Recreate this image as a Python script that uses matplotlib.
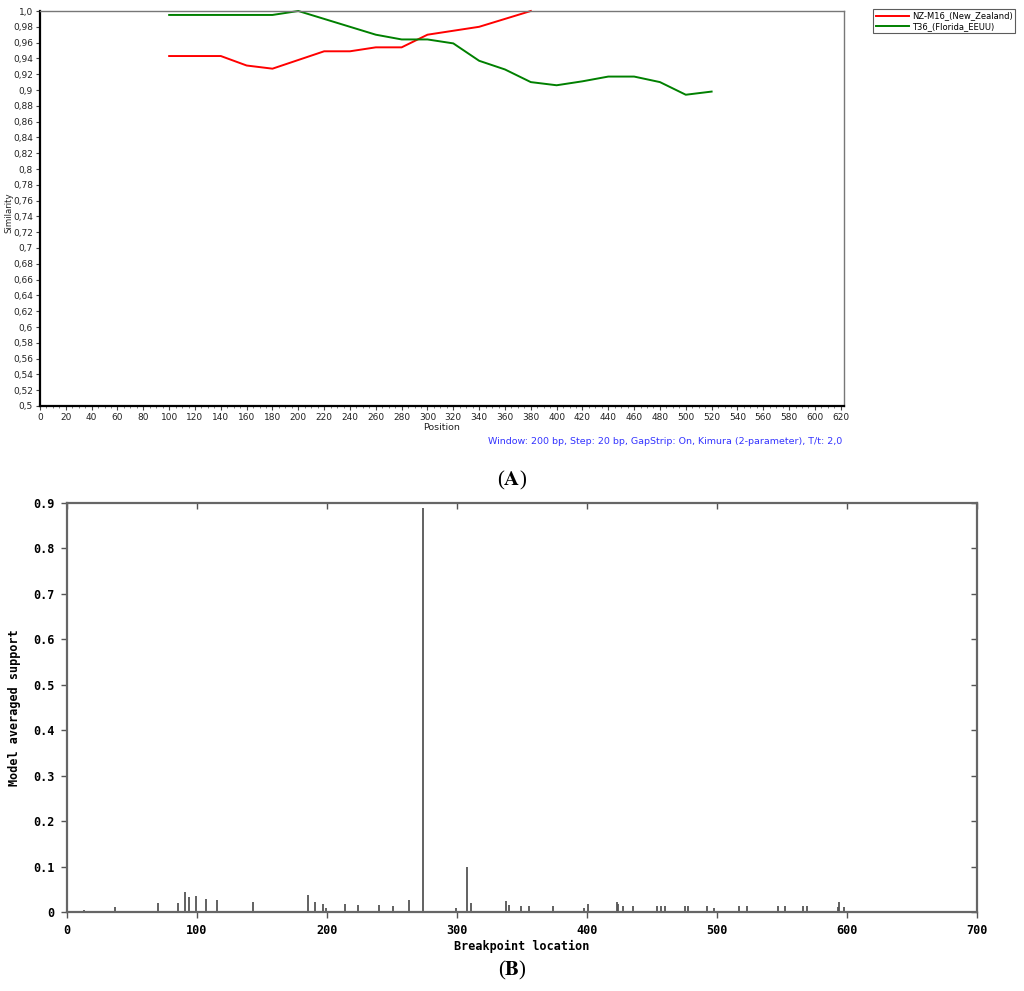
import matplotlib
matplotlib.use("Agg")
import matplotlib.pyplot as plt
from matplotlib.ticker import MultipleLocator, FuncFormatter

# ---------------- data ----------------
sim_positions = [100, 120, 140, 160, 180, 200, 220, 240, 260, 280, 300, 320, 340, 360, 380]
sim_nz = [0.943, 0.943, 0.943, 0.931, 0.927, 0.938, 0.949, 0.949, 0.954, 0.954, 0.970, 0.975, 0.980, 0.990, 1.000]

green_positions = [100, 120, 140, 160, 180, 200, 220, 240, 260, 280, 300, 320, 340, 360,
                   380, 400, 420, 440, 460, 480, 500, 520]
sim_t36 = [0.995, 0.995, 0.995, 0.995, 0.995, 1.000, 0.990, 0.980, 0.970, 0.964, 0.964, 0.959,
           0.937, 0.926, 0.910, 0.906, 0.911, 0.917, 0.917, 0.910, 0.894, 0.898]

series_names = ["NZ-M16_(New_Zealand)", "T36_(Florida_EEUU)"]

bp_location = [13, 37, 70, 85, 91, 94, 99, 107, 115, 143,
               185, 191, 197, 199, 214, 224, 240, 251, 263, 274,
               299, 308, 311, 338, 340, 349, 355, 374, 398, 401,
               423, 424, 428, 435, 454, 457, 460, 475, 478, 492,
               498, 517, 523, 547, 552, 566, 569, 593, 594, 598]
bp_support = [0.004, 0.011, 0.019, 0.019, 0.045, 0.033, 0.035, 0.028, 0.026, 0.022,
              0.037, 0.023, 0.017, 0.008, 0.017, 0.015, 0.015, 0.013, 0.026, 0.888,
              0.008, 0.098, 0.020, 0.024, 0.016, 0.013, 0.013, 0.013, 0.008, 0.017,
              0.022, 0.018, 0.013, 0.013, 0.013, 0.013, 0.013, 0.013, 0.013, 0.013,
              0.008, 0.013, 0.013, 0.013, 0.013, 0.013, 0.013, 0.010, 0.022, 0.010]

annotation = "Window: 200 bp, Step: 20 bp, GapStrip: On, Kimura (2-parameter), T/t: 2,0"

# ---------------- figure ----------------
W, H = 1024, 991
fig = plt.figure(figsize=(W / 100, H / 100), dpi=100)
fig.patch.set_facecolor("white")

def fx(px):
    return px / W

def fy(py):
    return 1 - py / H

# ----- Panel A -----
axA = fig.add_axes([fx(40), fy(406), fx(844) - fx(40), fy(11) - fy(406)])
axA.plot(sim_positions, sim_nz, color="#ff0000", lw=1.4, label=series_names[0], clip_on=False)
axA.plot(green_positions, sim_t36, color="#008000", lw=1.4, label=series_names[1], clip_on=False)
axA.set_xlim(0, 622.5)
axA.set_ylim(0.5, 1.0)
axA.xaxis.set_major_locator(MultipleLocator(20))
axA.xaxis.set_minor_locator(MultipleLocator(5))
axA.yaxis.set_major_locator(MultipleLocator(0.02))

def ylab(v, pos):
    s = ("%.2f" % v).rstrip("0")
    if s.endswith("."):
        s += "0"
    return s.replace(".", ",")

axA.yaxis.set_major_formatter(FuncFormatter(ylab))
axA.tick_params(axis="both", which="major", labelsize=6.5, length=3, width=0.8,
                color="#444444", pad=2, labelcolor="#222222")
axA.tick_params(axis="x", which="minor", length=1.5, width=0.6, color="#666666")
for s in ["left", "bottom"]:
    axA.spines[s].set_linewidth(1.6)
    axA.spines[s].set_color("black")
for s in ["top", "right"]:
    axA.spines[s].set_linewidth(1.0)
    axA.spines[s].set_color("#777777")
axA.set_xlabel("Position", fontsize=6.8, labelpad=1, color="#222222")
axA.set_ylabel("Similarity", fontsize=6.2, color="#222222", va="center")
axA.yaxis.set_label_coords(-0.039, 0.49)

leg = fig.legend(loc="upper left", bbox_to_anchor=(fx(873), fy(9)), fontsize=6.0,
                 frameon=True, fancybox=False, borderpad=0.3, handlelength=4.0,
                 handletextpad=0.4, labelspacing=0.15, borderaxespad=0)
leg.get_frame().set_edgecolor("#333333")
leg.get_frame().set_linewidth(0.8)

fig.text(fx(842), fy(442), annotation, color="#3333ff", fontsize=6.8, ha="right", va="center")

fig.text(fx(512), fy(480), r"($\mathbf{A}$)", fontsize=15, ha="center", va="center",
         family="Liberation Serif", math_fontfamily="stix")

# ----- Panel B -----
axB = fig.add_axes([fx(67), fy(912), fx(977) - fx(67), fy(503) - fy(912)])
axB.vlines(bp_location, 0, bp_support, color="#555555", lw=1.3)
axB.set_xlim(0, 700)
axB.set_ylim(0, 0.9)
axB.xaxis.set_major_locator(MultipleLocator(100))
axB.yaxis.set_major_locator(MultipleLocator(0.1))
axB.yaxis.set_major_formatter(FuncFormatter(lambda v, p: "0" if abs(v) < 1e-9 else ("%.1f" % v)))
mono = {"family": "DejaVu Sans Mono", "weight": "bold"}
axB.tick_params(axis="both", which="major", length=4, width=1.0, color="#555555",
                labelsize=8.5, pad=5, direction="out")
for lab in axB.get_xticklabels() + axB.get_yticklabels():
    lab.set_fontfamily("DejaVu Sans Mono")
    lab.set_fontweight("bold")
for s in axB.spines.values():
    s.set_color("#666666")
    s.set_linewidth(1.6)
axB.set_xlabel("Breakpoint location", fontsize=8.5, labelpad=2, **mono)
axB.set_ylabel("Model averaged support", fontsize=8.5, **mono)
axB.yaxis.set_label_coords(-0.05, 0.5)

# inward ticks on top/right spines
axB2 = axB.secondary_xaxis("top")
axB2.xaxis.set_major_locator(MultipleLocator(100))
axB2.tick_params(direction="in", length=4, width=1.0, color="#555555", labeltop=False)
axB3 = axB.secondary_yaxis("right")
axB3.yaxis.set_major_locator(MultipleLocator(0.1))
axB3.tick_params(direction="in", length=4, width=1.0, color="#555555", labelright=False)
for a in (axB2, axB3):
    for s in a.spines.values():
        s.set_visible(False)

fig.text(fx(512), fy(970), r"($\mathbf{B}$)", fontsize=15, ha="center", va="center",
         family="Liberation Serif", math_fontfamily="stix")

fig.savefig("out.png", dpi=100, facecolor="white")
